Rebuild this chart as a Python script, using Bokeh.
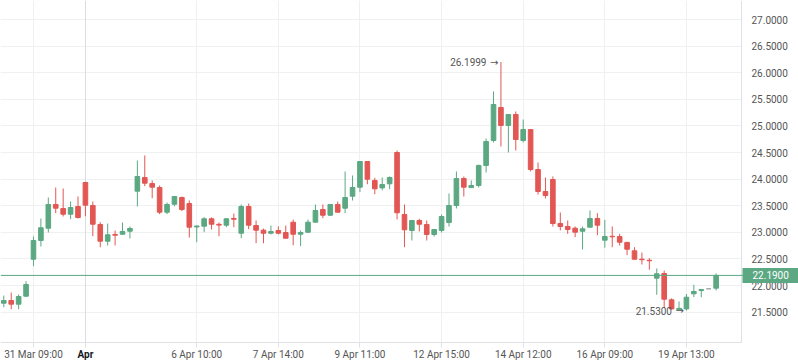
from bokeh.plotting import figure
from bokeh.models import Range1d, FixedTicker, PrintfTickFormatter, Span, Grid, ColumnDataSource
from bokeh.core.properties import value
from bokeh.embed import file_html
from bokeh.resources import INLINE

opens = [21.667, 21.718, 21.649, 21.799, 22.494, 22.846, 23.077, 23.523, 23.447, 23.340,
         23.485, 23.936, 23.504, 23.147, 22.833, 22.960, 22.964, 23.021, 23.773, 24.030,
         23.917, 23.842, 23.378, 23.528, 23.654, 23.541, 23.100, 23.115, 23.254, 23.150,
         23.134, 23.260, 22.983, 23.485, 23.128, 23.040, 22.983, 23.034, 22.996, 23.190,
         22.964, 23.002, 23.190, 23.429, 23.321, 23.523, 23.453, 23.679, 23.848, 24.331,
         23.974, 23.835, 23.912, 24.500, 23.335, 23.034, 23.222, 23.147, 22.959, 23.034,
         23.184, 23.504, 24.011, 23.840, 23.880, 24.256, 24.726, 25.346, 25.008, 25.214,
         24.726, 24.932, 24.180, 23.767, 23.992, 23.165, 23.110, 23.077, 23.020, 23.096,
         23.259, 22.852, 22.925, 22.921, 22.810, 22.652, 22.495, 22.475, 22.137, 22.226,
         21.731, 21.550, 21.560, 21.844, 21.905, 21.938, 21.949]
highs = [21.812, 21.868, 21.831, 22.081, 22.921, 23.259, 23.654, 23.842, 23.823, 23.579,
         23.673, 23.950, 23.579, 23.190, 23.165, 23.034, 23.184, 23.109, 24.350, 24.444,
         23.974, 23.880, 23.560, 23.680, 23.673, 23.598, 23.128, 23.284, 23.280, 23.184,
         23.260, 23.353, 23.523, 23.541, 23.222, 23.070, 23.128, 23.110, 23.128, 23.241,
         23.034, 23.240, 23.523, 23.523, 23.530, 23.579, 24.143, 24.068, 24.340, 24.340,
         24.024, 24.030, 24.050, 24.538, 23.523, 23.230, 23.254, 23.222, 23.060, 23.335,
         23.729, 24.143, 24.049, 23.974, 24.274, 24.763, 25.647, 26.1999, 25.220, 25.271,
         25.120, 24.940, 24.312, 24.030, 24.050, 23.372, 23.222, 23.110, 23.110, 23.410,
         23.359, 23.235, 23.110, 22.970, 22.820, 22.720, 22.620, 22.515, 22.320, 22.280,
         21.760, 21.700, 21.840, 22.013, 21.930, 21.938, 22.226]
lows = [21.592, 21.555, 21.555, 21.790, 22.363, 22.733, 22.996, 23.359, 23.297, 23.246,
        23.259, 23.303, 22.927, 22.720, 22.752, 22.752, 22.960, 22.883, 23.485, 23.867,
        23.641, 23.340, 23.340, 23.490, 23.397, 22.902, 22.814, 23.002, 23.053, 22.927,
        23.096, 23.096, 22.889, 23.058, 22.795, 22.795, 22.960, 22.960, 22.889, 22.757,
        22.739, 22.983, 23.190, 23.265, 23.310, 23.370, 23.359, 23.598, 23.754, 23.904,
        23.716, 23.790, 23.810, 23.241, 22.720, 22.846, 23.015, 22.846, 22.921, 22.996,
        23.109, 23.447, 23.673, 23.840, 23.842, 24.124, 24.688, 24.613, 24.500, 24.538,
        24.688, 24.143, 23.711, 23.635, 23.109, 23.034, 22.970, 22.908, 22.677, 23.090,
        22.946, 22.709, 22.720, 22.752, 22.570, 22.490, 22.395, 22.295, 21.825, 21.580,
        21.550, 21.545, 21.530, 21.780, 21.780, 21.938, 21.906]
closes = [21.718, 21.649, 21.793, 22.019, 22.846, 23.085, 23.523, 23.453, 23.340, 23.466,
          23.278, 23.510, 23.152, 22.833, 22.953, 22.945, 23.015, 23.071, 24.049, 23.923,
          23.848, 23.378, 23.523, 23.673, 23.429, 23.096, 23.118, 23.254, 23.152, 23.135,
          23.254, 23.245, 23.485, 23.134, 23.040, 22.983, 23.015, 22.983, 22.889, 22.964,
          22.996, 23.190, 23.410, 23.321, 23.523, 23.378, 23.654, 23.842, 24.331, 23.998,
          23.818, 23.898, 24.030, 23.367, 23.047, 23.222, 23.152, 22.959, 23.053, 23.297,
          23.504, 24.011, 23.848, 23.880, 24.256, 24.707, 25.402, 25.008, 25.214, 24.744,
          24.932, 24.180, 23.767, 23.692, 23.165, 23.109, 23.053, 23.002, 23.065, 23.259,
          23.134, 22.921, 22.915, 22.814, 22.682, 22.494, 22.485, 22.465, 22.220, 21.742,
          21.560, 21.570, 21.780, 21.887, 21.925, 21.938, 22.190]

tick_idx = [4, 11, 26, 37, 48, 59, 70, 81, 92]
tick_labels = ["31 Mar 09:00", "Apr", "6 Apr 10:00", "7 Apr 14:00", "9 Apr 11:00",
               "12 Apr 15:00", "14 Apr 12:00", "16 Apr 09:00", "19 Apr 13:00"]
month_label = "Apr"
price_ticks = [21.5, 22.0, 22.5, 23.0, 23.5, 24.0, 24.5, 25.0, 25.5, 26.0, 26.5, 27.0]

UP = "#5ba882"
DOWN = "#e25753"
FLAT = "#a3a3a3"
GRID = "#eff0f2"
AXIS = "#dfe1e5"
TXT = "#555555"
FONT = "Roboto"
FS = "10px"

n = len(opens)
idx = list(range(n))
colors = [UP if c > o else (DOWN if c < o else FLAT) for o, c in zip(opens, closes)]
src = ColumnDataSource(dict(x=idx, o=opens, h=highs, l=lows, c=closes,
                            top=[max(o, c) for o, c in zip(opens, closes)],
                            bot=[min(o, c) for o, c in zip(opens, closes)],
                            col=colors))

W, H = 798, 363
PW, PH = 741, 342          # pane (candle area) size in pixels
PX = 53.2                  # pixels per price unit
CW = 7.42                  # pixels per bar slot
x_lo = -3.3 / CW
x_hi = x_lo + W / CW
x_axis = x_lo + PW / CW    # where the price scale sits
y_top = 27.0 + 19 / PX
y_bot = y_top - H / PX
y_axis = y_top - PH / PX   # where the time scale sits

p = figure(width=W, height=H, x_range=Range1d(x_lo, x_hi), y_range=Range1d(y_bot, y_top),
           y_axis_location="right", output_backend="svg", toolbar_location=None,
           min_border_left=0, min_border_top=0, min_border_right=0, min_border_bottom=0)
p.background_fill_color = "white"
p.border_fill_color = "white"
p.outline_line_color = None

# axes drawn at fixed positions inside the canvas
p.xaxis.fixed_location = y_axis
p.yaxis.fixed_location = x_axis
p.xaxis.bounds = (x_lo, x_axis)
p.yaxis.bounds = (y_axis, y_top)
p.xaxis.ticker = FixedTicker(ticks=tick_idx)
p.xaxis.major_label_overrides = {t: (lab if lab != month_label else "") for t, lab in zip(tick_idx, tick_labels)}
p.yaxis.ticker = FixedTicker(ticks=price_ticks)
p.yaxis.formatter = PrintfTickFormatter(format="%.4f")
for ax in (p.xaxis[0], p.yaxis[0]):
    ax.axis_line_color = AXIS
    ax.major_tick_line_color = AXIS
    ax.major_tick_in = 0
    ax.minor_tick_line_color = None
    ax.major_label_text_font = FONT
    ax.major_label_text_font_size = FS
    ax.major_label_text_color = TXT
p.xaxis.major_tick_out = 5
p.xaxis.major_label_standoff = 1
p.yaxis.major_tick_out = 0
p.yaxis.major_label_standoff = 10

p.xgrid.grid_line_color = GRID
p.ygrid.grid_line_color = GRID
month_grid = Grid(dimension=0, ticker=FixedTicker(ticks=[t for t, lab in zip(tick_idx, tick_labels) if lab == month_label]),
                  grid_line_color="#dcdde0")
p.add_layout(month_grid)
if "cross_bounds" in Grid.properties():
    p.xgrid.cross_bounds = (y_axis, y_top)
    month_grid.cross_bounds = (y_axis, y_top)
    p.ygrid.cross_bounds = (x_lo, x_axis)
else:
    p.quad(left=[x_axis], right=[x_hi], bottom=[y_bot], top=[y_top], fill_color="white", line_color=None)
    p.quad(left=[x_lo], right=[x_hi], bottom=[y_bot], top=[y_axis], fill_color="white", line_color=None)

# candles
p.segment(x0="x", x1="x", y0="l", y1="h", source=src, line_color="col", line_width=1)
p.vbar(x="x", top="top", bottom="bot", width=0.62, source=src,
       fill_color="col", line_color="col", line_width=1)

# bold month label on time scale
for t, lab in zip(tick_idx, tick_labels):
    if lab == month_label:
        p.text(x=[t], y=[y_axis - 6 / PX], text=[lab], text_align="center", text_baseline="top",
               text_font=value(FONT), text_font_size=FS, text_font_style=value("bold"),
               text_color="#131722")

# last price line and label (label drawn above the price scale)
last = closes[-1]
p.add_layout(Span(location=last, dimension="width", line_color=UP, line_width=1))
p.quad(left=[x_axis + 1 / CW], right=[x_hi], bottom=[last - 7.5 / PX], top=[last + 7.5 / PX],
       fill_color=UP, line_color=None, level="overlay")
p.text(x=[x_axis + 11 / CW], y=[last], text=[f"{last:.4f}"], text_align="left", text_baseline="middle",
       text_font=value(FONT), text_font_size=FS, text_color="white", level="overlay")

# high / low markers
hi_i = max(idx, key=lambda i: highs[i])
lo_i = min(idx, key=lambda i: lows[i])
for i, v in ((hi_i, highs[hi_i]), (lo_i, lows[lo_i])):
    p.text(x=[i - 0.33], y=[v], text=["\u2192"], text_align="right", text_baseline="middle",
           text_font=value("DejaVu Sans"), text_font_size=FS, text_color=TXT)
    p.text(x=[i - 0.33], y=[v], text=[f"{v:.4f}"], text_align="right", text_baseline="middle",
           x_offset=-12, text_font=value(FONT), text_font_size=FS, text_color=TXT)

open("out.html", "w").write(file_html(p, INLINE))
